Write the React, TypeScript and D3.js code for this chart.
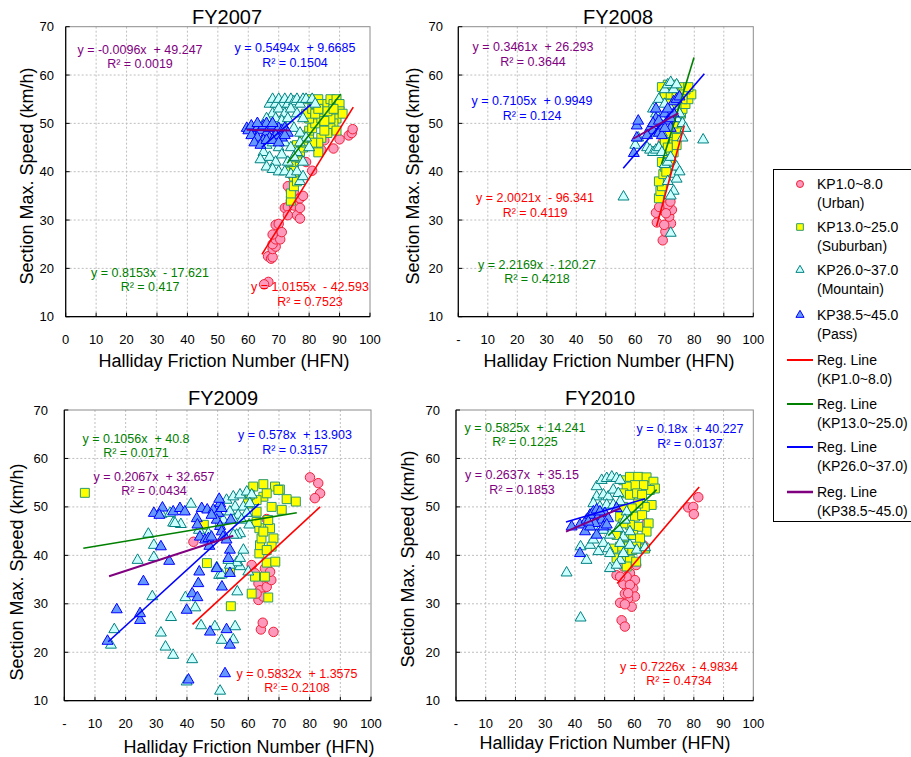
import React from "react";
import * as d3 from "d3";

// ---------------- DATA ----------------
const years = ["FY2007", "FY2008", "FY2009", "FY2010"];
const yTicks = [10, 20, 30, 40, 50, 60, 70];
const xTicks = [0, 10, 20, 30, 40, 50, 60, 70, 80, 90, 100];
const xTickLabels2007 = ["0", "10", "20", "30", "40", "50", "60", "70", "80", "90", "100"];
const xTickLabelsOther = ["-", "10", "20", "30", "40", "50", "60", "70", "80", "90", "100"];

type P = [number, number];

// FY2007
const urban2007: P[] = [[66.6, 17.2], [65.2, 16.7], [66.5, 22.5], [67.5, 22], [68, 22.3], [68, 24], [69, 24.5], [68, 25], [69, 26], [70.5, 26], [68, 27], [69, 29], [70, 29.2], [71, 27.5], [72, 32.5], [73, 32.7], [73, 31], [74, 34], [74, 36], [75, 36], [75, 33], [76, 31], [77, 30.3], [77, 32.5], [77, 34.5], [78, 35], [76, 38], [79, 42], [81, 40.2], [84, 44.5], [85, 46.5], [88, 44.8], [90, 46.7], [93, 47.5], [94, 48], [94.3, 48.8], [74, 39.5], [73, 37]];
const suburban2007: P[] = [[74, 34], [74, 35.5], [75, 37], [75, 39], [76, 38], [74, 40], [75, 41], [74, 42], [76, 43], [77, 44], [76, 45.5], [78, 45], [79, 46], [78, 47.5], [80, 47], [80, 48.5], [81, 49], [82, 50], [80, 51], [79, 52], [81, 53], [82, 54], [80, 55], [83, 55], [84, 54], [85, 53], [86, 54], [87, 55], [88, 54], [89, 55], [90, 54], [90, 52.5], [89, 51], [88, 50], [87, 49], [86, 48], [84, 47], [83, 46], [83, 44], [85, 48.5], [87, 51], [89, 48.5], [91, 52], [84, 51], [82, 52], [86, 52.5], [83, 53], [88, 53], [85, 50.5], [81, 46]];
const mountain2007: P[] = [[67, 54], [68, 55], [69, 54], [70, 55], [71, 54], [72, 55], [73, 54], [74, 55], [75, 54.5], [76, 55], [77, 54], [78, 55], [79, 55], [81, 55], [82, 54], [68, 52], [70, 53], [72, 52], [74, 53], [76, 52], [78, 51], [66, 51], [69, 51], [71, 50.5], [73, 51], [75, 49], [77, 48], [79, 47], [77, 46], [80, 45], [66, 45.5], [68, 46], [70, 45], [72, 46], [74, 45], [76, 44], [65, 44], [67, 43], [69, 42], [71, 43.5], [73, 42], [75, 43], [66, 41], [68, 40.5], [70, 40], [72, 40], [74, 39.5], [76, 40], [78, 42], [77, 38], [78, 39], [64, 42.5]];
const pass2007: P[] = [[59.5, 49], [60, 48.5], [61, 49.5], [62, 48], [63, 49], [64, 48.5], [65, 49.5], [66, 48], [67, 49], [68, 49.5], [69, 48], [70, 49], [71, 48.5], [72, 49], [73, 48], [61, 47.5], [63, 47], [65, 46.5], [67, 47], [69, 47.5], [71, 47], [62, 46], [64, 45.5], [66, 46.5], [68, 46.5], [70, 46], [72, 47.5], [66, 50], [68, 50], [63, 50]];

// FY2008
const urban2008: P[] = [[67, 31.5], [67.3, 29.5], [69.3, 25.8], [70.2, 27.6], [72.1, 29.3], [71.5, 30.7], [72.4, 32.1], [71, 33.1], [71.9, 33.8], [69.8, 29], [68.1, 32.7], [70.4, 31.4], [69.3, 46.1]];
const suburban2008: P[] = [[68, 34.5], [68.5, 36], [69, 37], [68, 38], [69.5, 39.5], [70, 41], [70.5, 40], [71, 43], [72, 42], [72, 44.5], [73, 46], [72.5, 47.5], [74, 47], [74, 49], [75, 50], [75.5, 52], [76, 53], [77, 54], [78, 55], [79, 56], [77, 57], [75, 57.5], [73, 58], [71, 58], [69, 57.5], [70, 56], [72, 56], [74, 55.5], [76, 56], [78, 57.5], [74, 52], [73, 50], [71, 48], [70, 46], [73, 44], [74, 45.5], [71, 45], [69, 42], [72, 54], [76, 55]];
const mountain2008: P[] = [[56, 34.8], [83, 46.6], [72, 27.3], [64, 45], [65, 44.5], [66, 44], [67, 44.5], [68, 45], [69, 44], [70, 41.5], [71, 42], [72, 43], [73, 39.5], [74, 38.5], [74, 41], [75, 40], [73, 36], [72, 35], [71, 38], [69, 48], [68, 50], [67, 52], [66, 53], [68, 55], [70, 57], [71, 58], [72, 58.5], [73, 57], [74, 58], [70, 54], [72, 53], [74, 51], [75, 52], [76, 50], [77, 49], [76, 47], [67, 49], [65, 48], [69, 51], [60, 45.5], [61, 47]];
const pass2008: P[] = [[59.5, 43.8], [60.5, 47], [60.5, 49.5], [61, 50.5], [65, 49], [66, 48.5], [67, 53], [68, 48], [69, 47.5], [70, 52], [71, 50.5], [72, 51], [73, 54.5], [74, 55], [75, 55.5], [67, 51], [66, 50], [69, 49.5], [72, 49], [73, 52], [70, 49], [68, 50.5], [64, 47.5], [71, 53]];

// FY2009
const urban2009: P[] = [[42.1, 42.8], [80.1, 56.1], [82.8, 54.9], [83.4, 52.8], [81.7, 51.8], [64.1, 24.7], [64.7, 26.1], [68.2, 24.2], [61.1, 38], [62.2, 36.3], [63.3, 34.2], [63.8, 32.8], [63.3, 30.8], [64.9, 31.5], [66, 33.5], [66.6, 35.2], [67.5, 34.9], [64.9, 35.6], [65.4, 37.3], [62.7, 32.1], [67.1, 36.6], [66, 47.5]];
const suburban2009: P[] = [[6.7, 52.9], [45.5, 46.3], [50.8, 47], [46.5, 38.4], [54.3, 29.5], [54, 36.8], [64.9, 54.7], [61.6, 54.2], [68.7, 54.2], [70.3, 53.6], [72.5, 51.6], [75.5, 51.1], [70.9, 49.4], [67.6, 50], [64.9, 52.1], [62.7, 49], [61.1, 32.1], [66.5, 31.3], [66, 38.5], [63.6, 40.4], [63.8, 42.1], [64.3, 43.5], [63.6, 45.6], [67.1, 45.6], [68.2, 43.5], [67.6, 41.8], [62.2, 35.6], [65.4, 35.6], [68.8, 38.7], [69.8, 53.5], [66, 52.8], [62.7, 51.4], [60.5, 52.5], [59.9, 50.7], [66.5, 47.3], [62.7, 46.9], [64.9, 44.9], [66, 41.1]];
const mountain2009: P[] = [[15.2, 21.5], [16.3, 24.7], [23.9, 39], [27.4, 44.4], [29.2, 42.1], [29.2, 39.6], [28.7, 31.5], [31.7, 48.5], [35.5, 46.7], [38, 46.4], [41.3, 50.6], [31.5, 24], [33, 21.1], [34.8, 27.2], [35.5, 19.4], [39.5, 31.3], [39.9, 13.9], [41.7, 18.5], [42.7, 29.2], [44.6, 25.5], [49.1, 25.3], [50.8, 12], [51.3, 22.5], [55.1, 22.6], [55.7, 25.3], [56.4, 32.5], [57.3, 37.7], [56.2, 38.5], [57.3, 39.4], [58.4, 41.1], [57.3, 44.5], [56.2, 44.2], [55.1, 44.2], [50.5, 35.9], [54, 38], [60.3, 46.3], [60, 36.6], [52.9, 51.4], [55.1, 52.1], [57.3, 52.5], [59.5, 53.1], [61.1, 52.5], [55.7, 50], [58.4, 50], [60.5, 50.7], [54, 49], [56.7, 48.3], [59.5, 48.7], [51.8, 47.3], [55.1, 47.3], [57.8, 47.3], [34.5, 48.7], [36.1, 46.6], [43.9, 45.2], [47, 44.5], [51.3, 36], [49.7, 37.5], [53.5, 39]];
const pass2009: P[] = [[14.1, 22.3], [17.1, 28.8], [24.7, 26.6], [24.7, 28], [25.8, 34.6], [29.2, 48.7], [32, 49.8], [31, 48.3], [31.5, 41.8], [34.2, 38.8], [35.5, 49], [37.7, 49.7], [39.3, 49], [39.9, 28.7], [40.5, 14.3], [41.7, 32.1], [43.4, 31.3], [43.7, 34.2], [44, 36.6], [43.2, 47.6], [43.4, 46.3], [44.2, 43.8], [45.9, 43.2], [47, 43.5], [47.3, 41.9], [44.8, 49.7], [46.6, 49.4], [48.6, 49.4], [50.8, 50.7], [50.2, 48.7], [49.7, 47.3], [50.8, 46], [51.3, 44.9], [51.8, 43.8], [52.9, 43.2], [54, 41.1], [53.5, 39.4], [54, 36.3], [51.4, 33.5], [49.7, 37.3], [47.5, 24.2], [52.9, 24.7], [54, 21.5], [52.4, 15.6], [54.3, 47.3], [48, 43.8], [48, 48.3], [50.5, 51.6], [51.3, 49.7]];

// FY2010
const urban2010: P[] = [[78.1, 49.9], [79.8, 50], [80, 48.5], [81.5, 52], [55.7, 26.6], [56.8, 25.3], [55.2, 30.2], [54, 35.9], [56.3, 37.7], [58.5, 36.3], [60.2, 34.9], [59.6, 33.2], [60.2, 31.5], [59.1, 29.4], [57.9, 31.1], [56.8, 32.1], [56.3, 34.1], [57.4, 35.6], [58.5, 33.9], [57.9, 32.2], [63, 42.1], [64.1, 46.6], [60.6, 38], [55.2, 35.6], [56.8, 29.9]];
const suburban2010: P[] = [[56.3, 55.5], [58.5, 56.2], [61.3, 56.2], [64.1, 56.1], [66.4, 55.2], [66.9, 53.8], [65.2, 53.5], [63, 54.5], [60.2, 54.5], [57.4, 54.2], [56.3, 52.8], [58.5, 52.5], [60.9, 52.8], [62.6, 52.5], [65.8, 50.4], [63.5, 50], [61.3, 50.7], [59.1, 49.7], [56.3, 50], [55.2, 48], [60.2, 48], [62.6, 48.3], [64.8, 46.6], [64.1, 44.9], [61.3, 45.9], [58.5, 46.3], [56.3, 46.6], [54, 44.2], [56.8, 43.8], [59.6, 44.2], [61.9, 43.5], [60.6, 41.8], [57.9, 41.8], [55.2, 41.8], [52.9, 41.4], [54, 39.4], [56.3, 39.7], [58.5, 39], [60.6, 38.7], [57.4, 37.7], [59.3, 41.1], [63.6, 41.4]];
const mountain2010: P[] = [[37.2, 36.4], [41.9, 27.1], [41.9, 41.8], [43.9, 39], [45.1, 42.1], [46.2, 43.2], [47.9, 40.8], [49.6, 42.5], [51.2, 41.4], [51.8, 40.4], [51.8, 37.3], [55.2, 39], [56.3, 40.4], [58.5, 42.1], [60.8, 41.1], [63.6, 41.6], [47.3, 54.2], [49, 55.5], [50.7, 55.9], [52.4, 56.2], [54, 55.9], [55.2, 55.5], [47.3, 52.1], [49.6, 52.5], [51.2, 52.1], [52.9, 53.5], [54.6, 52.8], [46.2, 50.7], [48.4, 50], [50.7, 50.4], [52.9, 50.4], [55.2, 51.1], [57.4, 49], [45.1, 48.3], [49.6, 45.2], [51.8, 44.2], [54.6, 45.6], [56.3, 43.8], [55.2, 42.5], [46.2, 45.9], [54, 38], [58.5, 44.9], [56.8, 47.3]];
const pass2010: P[] = [[38.9, 45.9], [41.7, 46.3], [41.7, 40.4], [43.4, 44.9], [43.9, 47.3], [45.1, 48.3], [46.2, 49], [47.3, 49.4], [47.9, 48], [49, 47.3], [50.1, 48.7], [46.7, 46.6], [45.1, 45.9], [47.3, 44.2], [49.6, 45.9], [51.2, 47.6], [54, 49.7], [50.7, 46.3], [48.4, 49], [44.5, 46.9]];

// Regression lines as drawn: [slope, intercept, xFrom, xTo] per year
const redLines = [[1.0155, -42.593, 64.5, 94.5], [2.2169, -120.27, 67.2, 76.6], [0.5832, 1.3575, 41.8, 83.4], [0.7226, -4.9834, 54.2, 81.8]];
const greenLines = [[0.8153, -17.621, 72.8, 90.4], [2.0021, -96.341, 68.9, 79.9], [0.1056, 40.8, 6.2, 75.8], [0.5825, 14.241, 51.2, 67.5]];
const blueLines = [[0.5494, 9.6685, 64.4, 80.5], [0.7105, 0.9949, 55.9, 83.4], [0.578, 13.903, 14.3, 63.5], [0.18, 40.227, 37, 63.6]];
const purpleLines = [[-0.0096, 49.247, 59.5, 73.7], [0.3461, 26.293, 59.3, 74.6], [0.2067, 32.657, 14.6, 55.1], [0.2637, 35.15, 37, 55.2]];

// Equation labels per year: [equation, R²]
const redLabels = [["y = 1.0155x  - 42.593", "R² = 0.7523"], ["y = 2.0021x  - 96.341", "R² = 0.4119"], ["y = 0.5832x  + 1.3575", "R² = 0.2108"], ["y = 0.7226x  - 4.9834", "R² = 0.4734"]];
const greenLabels = [["y = 0.8153x  - 17.621", "R² = 0.417"], ["y = 2.2169x  - 120.27", "R² = 0.4218"], ["y = 0.1056x  + 40.8", "R² = 0.0171"], ["y = 0.5825x  + 14.241", "R² = 0.1225"]];
const blueLabels = [["y = 0.5494x  + 9.6685", "R² = 0.1504"], ["y = 0.7105x  + 0.9949", "R² = 0.124"], ["y = 0.578x  + 13.903", "R² = 0.3157"], ["y = 0.18x  + 40.227", "R² = 0.0137"]];
const purpleLabels = [["y = -0.0096x  + 49.247", "R² = 0.0019"], ["y = 0.3461x  + 26.293", "R² = 0.3644"], ["y = 0.2067x  + 32.657", "R² = 0.0434"], ["y = 0.2637x  + 35.15", "R² = 0.1853"]];

const legendSeries = ["KP1.0~8.0", "KP13.0~25.0", "KP26.0~37.0", "KP38.5~45.0"];
const legendSub = ["(Urban)", "(Suburban)", "(Mountain)", "(Pass)"];

// ---------------- LAYOUT / STYLE ----------------
const FONT = "'Liberation Sans', Arial, Helvetica, sans-serif";
const panels = [
  { left: 65.7, top: 26.7, w: 304.3, h: 290, tx: 227, ty: 17, ylx: 27, yly: 176, xlx: 224, xly: 361, tly: 339, ytr: 54 },
  { left: 458.3, top: 26.7, w: 295, h: 290, tx: 618, ty: 17, ylx: 413, yly: 176, xlx: 609, xly: 361, tly: 339, ytr: 443 },
  { left: 64.3, top: 410, w: 306.7, h: 290.7, tx: 223, ty: 398, ylx: 17, yly: 572, xlx: 249, xly: 747, tly: 723, ytr: 48 },
  { left: 456, top: 410, w: 297.3, h: 290.7, tx: 600, ty: 398, ylx: 408, yly: 559, xlx: 605, xly: 743, tly: 723, ytr: 440 },
];
// label anchors: [cx, eqY, r2Y] for red, green, blue, purple
const labelPos = [
  [[310, 287, 302], [150, 273, 287], [295, 48, 63], [140, 50, 64]],
  [[535, 198, 213], [537, 265, 279], [532, 101, 116], [533, 47, 62]],
  [[297, 674, 688], [136, 439, 453], [295, 435, 450], [154, 477, 491]],
  [[679, 667, 681], [525, 428, 442], [690, 429, 444], [522, 475, 490]],
];

const COLORS = { red: "#FF0000", green: "#008000", blue: "#0000FF", purple: "#800080" };
const seriesStyle = [
  { type: d3.symbolCircle, size: 70, fill: "#FF99BB", stroke: "#F0203A" },
  { type: d3.symbolSquare, size: 80, fill: "#FFFF00", stroke: "#2E9A6E" },
  { type: d3.symbolTriangle, size: 52, fill: "#CCFFFF", stroke: "#008080" },
  { type: d3.symbolTriangle, size: 52, fill: "#6699FF", stroke: "#0000FF" },
];

const seriesByYear: P[][][] = [
  [urban2007, suburban2007, mountain2007, pass2007],
  [urban2008, suburban2008, mountain2008, pass2008],
  [urban2009, suburban2009, mountain2009, pass2009],
  [urban2010, suburban2010, mountain2010, pass2010],
];
const lineSets = [
  { lines: redLines, labels: redLabels, color: COLORS.red, width: 1.6 },
  { lines: greenLines, labels: greenLabels, color: COLORS.green, width: 1.6 },
  { lines: blueLines, labels: blueLabels, color: COLORS.blue, width: 1.6 },
  { lines: purpleLines, labels: purpleLabels, color: COLORS.purple, width: 2 },
];

function Panel({ i }: { i: number }) {
  const p = panels[i];
  const x = d3.scaleLinear().domain([0, 100]).range([p.left, p.left + p.w]);
  const y = d3.scaleLinear().domain([10, 70]).range([p.top + p.h, p.top]);
  const tickLabels = i === 0 ? xTickLabels2007 : xTickLabelsOther;
  return (
    <g>
      {xTicks.slice(1, -1).map((t) => (
        <line key={"gx" + t} x1={x(t)} x2={x(t)} y1={p.top} y2={p.top + p.h} stroke="#BFBFBF" strokeDasharray="2,2" />
      ))}
      {yTicks.slice(1, -1).map((t) => (
        <line key={"gy" + t} x1={p.left} x2={p.left + p.w} y1={y(t)} y2={y(t)} stroke="#BFBFBF" strokeDasharray="2,2" />
      ))}
      <rect x={p.left} y={p.top} width={p.w} height={p.h} fill="none" stroke="#8C8C8C" strokeWidth={1} />
      <line x1={p.left} x2={p.left} y1={p.top} y2={p.top + p.h} stroke="#000" strokeWidth={1.2} />
      <line x1={p.left} x2={p.left + p.w} y1={p.top + p.h} y2={p.top + p.h} stroke="#000" strokeWidth={1.2} />
      {xTicks.map((t) => (
        <line key={"tx" + t} x1={x(t)} x2={x(t)} y1={p.top + p.h} y2={p.top + p.h - 4} stroke="#000" />
      ))}
      {yTicks.map((t) => (
        <line key={"ty" + t} x1={p.left} x2={p.left + 4} y1={y(t)} y2={y(t)} stroke="#000" />
      ))}
      {xTicks.map((t, k) => (
        <text key={"xl" + t} x={x(t)} y={p.tly} textAnchor="middle" dominantBaseline="central" fontSize={13} fontFamily={FONT} fill="#000">
          {tickLabels[k]}
        </text>
      ))}
      {yTicks.map((t) => (
        <text key={"yl" + t} x={p.ytr} y={y(t)} textAnchor="end" dominantBaseline="central" fontSize={13} fontFamily={FONT} fill="#000">
          {t}
        </text>
      ))}
      <text x={p.tx} y={p.ty} textAnchor="middle" dominantBaseline="central" fontSize={20} fontFamily={FONT} fill="#000">
        {years[i]}
      </text>
      <text x={p.xlx} y={p.xly} textAnchor="middle" dominantBaseline="central" fontSize={18} fontFamily={FONT} fill="#000">
        Halliday Friction Number (HFN)
      </text>
      <text
        transform={`translate(${p.ylx},${p.yly}) rotate(-90)`}
        textAnchor="middle"
        dominantBaseline="central"
        fontSize={18}
        fontFamily={FONT}
        fill="#000"
      >
        Section Max. Speed (km/h)
      </text>
      {seriesByYear[i].map((pts, s) => {
        const st = seriesStyle[s];
        const path = d3.symbol().type(st.type).size(st.size)() as string;
        return (
          <g key={"s" + s}>
            {pts.map((d, k) => (
              <path key={k} d={path} transform={`translate(${x(d[0])},${y(d[1])})`} fill={st.fill} stroke={st.stroke} strokeWidth={1} />
            ))}
          </g>
        );
      })}
      {lineSets.map((ls, k) => {
        const [m, b, x0, x1] = ls.lines[i];
        return (
          <line key={"rl" + k} x1={x(x0)} y1={y(m * x0 + b)} x2={x(x1)} y2={y(m * x1 + b)} stroke={ls.color} strokeWidth={ls.width} />
        );
      })}
      {lineSets.map((ls, k) => {
        const [cx, ey, ry] = labelPos[i][k];
        return (
          <g key={"lb" + k} fontSize={12.5} fontFamily={FONT} fill={ls.color} textAnchor="middle">
            <text x={cx} y={ey} dominantBaseline="central" style={{ whiteSpace: "pre" }}>{ls.labels[i][0]}</text>
            <text x={cx} y={ry} dominantBaseline="central">{ls.labels[i][1]}</text>
          </g>
        );
      })}
    </g>
  );
}

function Legend() {
  const rows = [184, 227, 270, 315];
  const lineRows = [360, 404, 447, 492];
  const lineColors = [COLORS.red, COLORS.green, COLORS.blue, COLORS.purple];
  return (
    <g fontFamily={FONT} fontSize={14} fill="#000">
      <rect x={773.5} y={169.5} width={160} height={352} fill="#fff" stroke="#000" strokeWidth={1} />
      {rows.map((ry, s) => {
        const st = seriesStyle[s];
        const path = d3.symbol().type(st.type).size(st.size * 0.55)() as string;
        return (
          <g key={"lg" + s}>
            <path d={path} transform={`translate(800,${ry})`} fill={st.fill} stroke={st.stroke} strokeWidth={1} />
            <text x={817} y={ry} dominantBaseline="central">{legendSeries[s]}</text>
            <text x={817} y={ry + 19} dominantBaseline="central">{legendSub[s]}</text>
          </g>
        );
      })}
      {lineRows.map((ry, s) => (
        <g key={"ll" + s}>
          <line x1={787} x2={813} y1={ry} y2={ry} stroke={lineColors[s]} strokeWidth={s === 3 ? 2.5 : 2} />
          <text x={817} y={ry} dominantBaseline="central">Reg. Line</text>
          <text x={817} y={ry + 19} dominantBaseline="central">({legendSeries[s]})</text>
        </g>
      ))}
    </g>
  );
}

export default function App() {
  return (
    <svg width={911} height={757} style={{ position: "absolute", left: 0, top: 0, background: "#fff" }}>
      <rect x={0} y={0} width={911} height={757} fill="#fff" />
      {[0, 1, 2, 3].map((i) => (
        <Panel key={i} i={i} />
      ))}
      <Legend />
    </svg>
  );
}
